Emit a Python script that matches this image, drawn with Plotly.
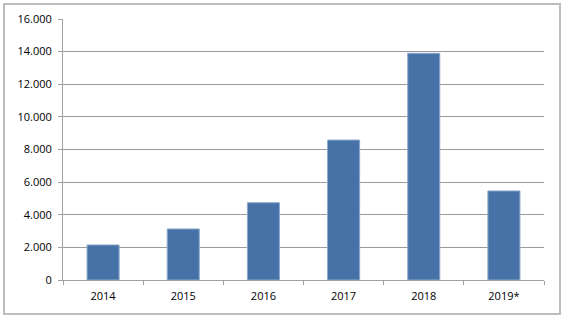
import plotly.graph_objects as go

categories = ["2014", "2015", "2016", "2017", "2018", "2019*"]
values = [2150, 3130, 4740, 8580, 13900, 5460]
y_ticks = [0, 2000, 4000, 6000, 8000, 10000, 12000, 14000, 16000]

fig = go.Figure(go.Bar(
    x=categories, y=values,
    marker=dict(color="#4672A8", line=dict(color="#8FAACB", width=1)),
    width=0.4,
))

L, R, T, B = 63, 22, 19, 41
W, H = 566, 321
pw, ph = W - L - R, H - T - B

def px(x):
    return (x - L) / pw

def py(y):
    return (H - B - y) / ph

fig.update_layout(
    width=W, height=H,
    margin=dict(l=L, r=R, t=T, b=B),
    paper_bgcolor="white", plot_bgcolor="white",
    separators=",.",
    showlegend=False,
    font=dict(family="Open Sans, Liberation Sans, Arial, sans-serif", size=11, color="#000000"),
    xaxis=dict(
        type="category", tickson="boundaries", ticks="outside", ticklen=4,
        tickcolor="#A0A0A0", showline=True, linecolor="#A0A0A0", linewidth=1,
        showgrid=False, ticklabelstandoff=6,
    ),
    yaxis=dict(
        range=[0, 16000], tickvals=y_ticks, tickformat=",d",
        ticks="outside", ticklen=4, tickcolor="#A0A0A0",
        showline=True, linecolor="#A0A0A0", linewidth=1,
        showgrid=True, gridcolor="#9A9A9A", gridwidth=1, zeroline=False,
        ticklabelstandoff=4,
    ),
    shapes=[dict(
        type="rect", xref="paper", yref="paper",
        x0=px(4), x1=px(560), y0=py(314), y1=py(4),
        line=dict(color="#BDBDBD", width=2), layer="below",
    )],
)

fig.write_html("out.html")
